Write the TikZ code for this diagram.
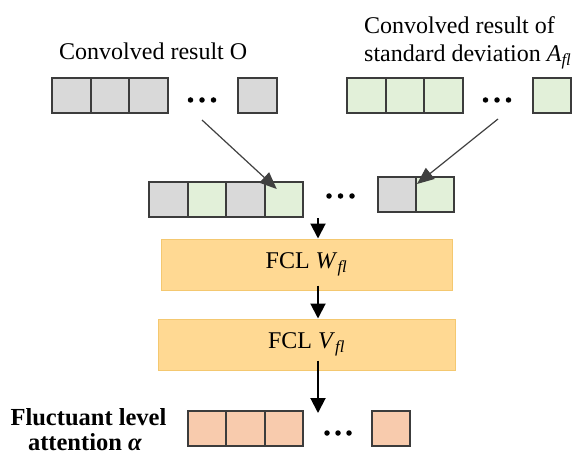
\documentclass[tikz,border=0pt]{standalone}
\usepackage{fontspec}
\setmainfont{Liberation Serif}
\usetikzlibrary{arrows.meta}
\definecolor{cgray}{HTML}{D9D9D9}
\definecolor{cgreen}{HTML}{E2F0D9}
\definecolor{csalmon}{HTML}{F8CBAD}
\definecolor{cfcl}{HTML}{FFD993}
\definecolor{cfclb}{HTML}{F4C870}
\definecolor{cedge}{HTML}{3C3C3C}
\definecolor{carrow}{HTML}{404040}
\tikzset{
  cell/.style={draw=cedge, line width=2pt, minimum width=38.5pt, minimum height=35pt, inner sep=0pt},
  gcell/.style={cell, fill=cgray},
  ecell/.style={cell, fill=cgreen},
  scell/.style={cell, fill=csalmon},
  fcl/.style={draw=cfclb, line width=1pt, fill=cfcl, minimum height=51pt, inner sep=0pt, font=\fontsize{24}{28}\selectfont},
  lbl/.style={inner sep=0pt, font=\fontsize{24}{28}\selectfont},
  blbl/.style={inner sep=0pt, font=\fontsize{24.5}{28}\selectfont\bfseries},
  varr/.style={line width=2pt, black, -{Triangle[length=15pt,width=15pt]}},
  darr/.style={line width=1.2pt, carrow, -{Triangle[length=17pt,width=14pt]}},
  dot/.style={circle, fill=black, inner sep=0pt, minimum size=5.5pt}
}
\begin{document}
\begin{tikzpicture}[x=1pt,y=-1pt]
\useasboundingbox (0,0) rectangle (577,454);
% labels
\node[lbl, anchor=base west] (lO) at (59,60) {Convolved result O};
\node[lbl, anchor=base west] (lA1) at (364,34) {Convolved result of};
\node[lbl, anchor=base west] (lA2) at (364,62) {standard deviation \textit{A}\textsubscript{\textit{fl}}};
% top-left row
\node[gcell] (a1) at (71.3,95.5) {};
\node[gcell] (a2) at (110,95.5) {};
\node[gcell] (a3) at (148.7,95.5) {};
\node[gcell] (a4) at (257.5,95.5) {};
\foreach \x in {190.5,202,213.5} \node[dot] at (\x,100) {};
% top-right row
\node[ecell] (b1) at (366.3,95.5) {};
\node[ecell] (b2) at (405,95.5) {};
\node[ecell] (b3) at (443.7,95.5) {};
\node[ecell] (b4) at (552,95.5) {};
\foreach \x in {485.5,497,508.5} \node[dot] at (\x,100) {};
% middle row
\node[gcell] (m1) at (168.25,199.5) {};
\node[ecell] (m2) at (206.75,199.5) {};
\node[gcell] (m3) at (245.25,199.5) {};
\node[ecell] (m4) at (283.75,199.5) {};
\foreach \x in {329,340.5,352} \node[dot] at (\x,196) {};
\node[gcell] (n1) at (397,194.5) {};
\node[ecell] (n2) at (435,194.5) {};
% FCL boxes
\node[fcl, minimum width=291pt] (f1) at (306.5,264.5) {FCL \textit{W}\textsubscript{\textit{fl}}};
\node[fcl, minimum width=297pt] (f2) at (306.5,344.5) {FCL \textit{V}\textsubscript{\textit{fl}}};
% bottom row
\node[scell] (c1) at (207.2,428.5) {};
\node[scell] (c2) at (245.5,428.5) {};
\node[scell] (c3) at (283.8,428.5) {};
\node[scell] (c4) at (391,428.5) {};
\foreach \x in {327,338,349} \node[dot] at (\x,433) {};
\node[blbl, anchor=base] (att1) at (88.5,425) {Fluctuant level};
\node[blbl, anchor=base] (att2) at (85,450) {attention \textit{α}};
% connectors
\coordinate (ax) at (318,0);
\coordinate (s1) at (202,120);
\coordinate (s2) at (498,119);
\draw[darr] (s1) -- ([xshift=-7pt,yshift=-8pt]m4.north);
\draw[darr] (s2) -- ([xshift=-18pt,yshift=-8pt]n2.north);
\draw[varr] (m4.south -| ax) -- (f1.north -| ax);
\draw[varr] ([yshift=5pt]f1.south -| ax) -- (f2.north -| ax);
\draw[varr] ([yshift=10pt]f2.south -| ax) -- ([yshift=-3pt]c3.north -| ax);
\end{tikzpicture}
\end{document}
